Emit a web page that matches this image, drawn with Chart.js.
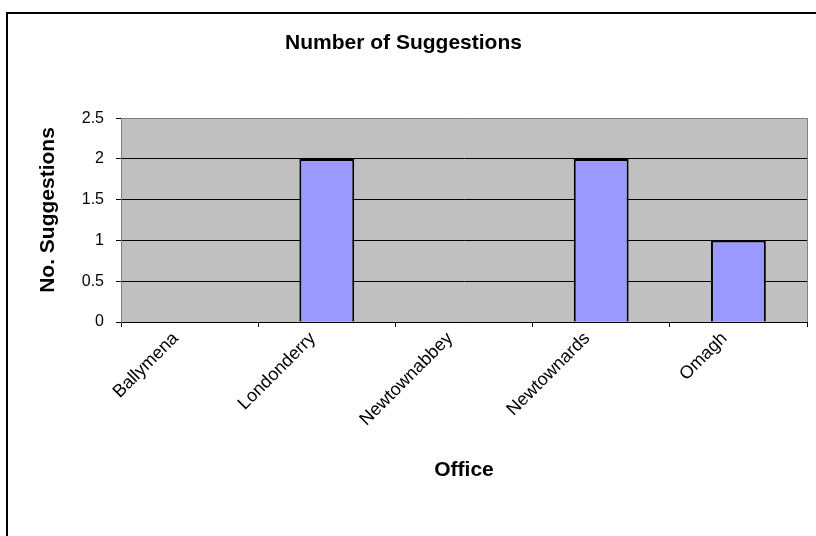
<!DOCTYPE html>
<html>
<head>
<meta charset="utf-8">
<title>Number of Suggestions</title>
<script src="https://cdn.jsdelivr.net/npm/chart.js@4/dist/chart.umd.min.js"></script>
<style>
  html, body { margin: 0; padding: 0; background: #fff; }
  #wrap { width: 816px; height: 536px; position: relative; }
</style>
</head>
<body>
<div id="wrap"><canvas id="suggestions"></canvas></div>
<script>
const offices = ['Ballymena', 'Londonderry', 'Newtownabbey', 'Newtownards', 'Omagh'];
const suggestions = [0, 2, 0, 2, 1];
const yTicks = [0, 0.5, 1, 1.5, 2, 2.5];
const yTitle = 'No. Suggestions';

const FONT = '"Liberation Sans", Arial, sans-serif';

// grey plot area, outer frame, plot border and the value-axis title
const frame = {
  id: 'frame',
  beforeDraw(chart) {
    const { ctx, chartArea: a } = chart;
    ctx.save();
    ctx.fillStyle = '#fff';
    ctx.fillRect(0, 0, chart.width, chart.height);
    ctx.fillStyle = '#c0c0c0';
    ctx.fillRect(a.left, a.top, a.right - a.left, a.bottom - a.top);
    ctx.strokeStyle = '#000';
    ctx.lineWidth = 2;
    ctx.beginPath();
    ctx.moveTo(7, chart.height);
    ctx.lineTo(7, 13);
    ctx.lineTo(chart.width, 13);
    ctx.stroke();
    ctx.restore();
  },
  afterDraw(chart) {
    const { ctx, chartArea: a } = chart;
    ctx.save();
    ctx.strokeStyle = '#808080';
    ctx.lineWidth = 1;
    ctx.beginPath();
    ctx.moveTo(a.right + 0.5, a.top);
    ctx.lineTo(a.right + 0.5, a.bottom);
    ctx.stroke();

    ctx.translate(48, 210);
    ctx.rotate(-Math.PI / 2);
    ctx.fillStyle = '#000';
    ctx.font = 'bold 21px ' + FONT;
    ctx.textAlign = 'center';
    ctx.textBaseline = 'middle';
    ctx.fillText(yTitle, 0, 0);
    ctx.restore();
  }
};

new Chart(document.getElementById('suggestions'), {
  type: 'bar',
  data: {
    labels: offices,
    datasets: [
      {
        label: yTitle,
        data: suggestions,
        backgroundColor: '#9999ff',
        borderColor: '#000',
        borderWidth: 2,
        categoryPercentage: 1,
        barPercentage: 0.4,
      },
    ],
  },
  options: {
    responsive: true,
    maintainAspectRatio: false,
    animation: false,
    layout: {
      padding: { left: 0, right: 9, top: 0, bottom: 0 },
    },
    plugins: {
      legend: { display: false },
      tooltip: { enabled: false },
      title: {
        display: true,
        text: 'Number of Suggestions',
        color: '#000',
        font: { family: FONT, size: 21, weight: 'bold' },
        padding: { top: 31, bottom: 62 },
      },
    },
    scales: {
      x: {
        offset: true,
        grid: {
          offset: true,
          drawOnChartArea: false,
          tickLength: 5,
          color: '#000',
        },
        border: { color: '#000', width: 1 },
        ticks: {
          color: '#000',
          font: { family: FONT, size: 18 },
          minRotation: 45,
          maxRotation: 45,
          padding: 1,
          labelOffset: -14,
        },
        title: {
          display: true,
          text: 'Office',
          color: '#000',
          font: { family: FONT, size: 21, weight: 'bold' },
          padding: { top: 0, bottom: 53 },
        },
        afterFit(scale) {
          scale.height = 214;
        },
      },
      y: {
        min: 0,
        max: 2.5,
        afterBuildTicks(scale) {
          scale.ticks = yTicks.map(v => ({ value: v }));
        },
        grid: {
          color: ctx => (ctx.tick && ctx.tick.value === 2.5 ? '#808080' : '#000'),
          tickColor: '#000',
          tickLength: 5,
        },
        border: { color: '#808080', width: 1 },
        ticks: {
          color: '#000',
          font: { family: FONT, size: 16 },
          padding: 12,
          callback: v => String(v),
        },
        afterFit(scale) {
          scale.width = 121;
        },
      },
    },
  },
  plugins: [frame],
});
</script>
</body>
</html>
